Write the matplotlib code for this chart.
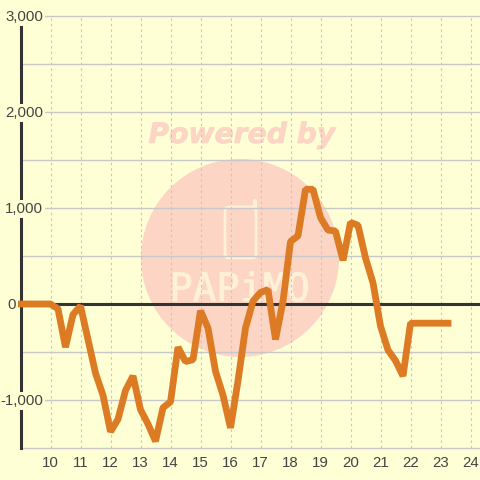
"""Line chart with hourly values and a pale watermark behind it."""

import matplotlib

matplotlib.use("Agg")
import matplotlib.patheffects as efeitos
import matplotlib.pyplot as plt
from matplotlib.lines import Line2D
from matplotlib.patches import Circle, FancyBboxPatch

hours = [
    9.0, 9.25, 9.5, 9.75, 10.0, 10.25, 10.5, 10.75, 11.0, 11.25, 11.5, 11.75,
    12.0, 12.25, 12.5, 12.75, 13.0, 13.25, 13.5, 13.75, 14.0, 14.25, 14.5, 14.75,
    15.0, 15.25, 15.5, 15.75, 16.0, 16.25, 16.5, 16.75, 17.0, 17.25, 17.5, 17.75,
    18.0, 18.25, 18.5, 18.75, 19.0, 19.25, 19.5, 19.75, 20.0, 20.25, 20.5, 20.75,
    21.0, 21.25, 21.5, 21.75, 22.0, 22.25, 22.5, 22.75, 23.0, 23.25,
]
values = [
    0, 0, 0, 0, 0, -50, -450, -110, -20, -370, -720, -950,
    -1330, -1200, -900, -750, -1100, -1250, -1430, -1080, -1020, -450, -600, -580,
    -70, -250, -700, -950, -1290, -800, -250, 30, 120, 150, -370, 30,
    650, 710, 1195, 1195, 900, 770, 760, 455, 850, 820, 480, 220,
    -230, -480, -590, -750, -200, -200, -200, -200, -200, -200,
]
x_ticks = list(range(10, 25))
y_grid = [-1500, -1000, -500, 0, 500, 1000, 1500, 2000, 2500, 3000]
y_labels = {3000: "3,000", 2000: "2,000", 1000: "1,000", 0: "0", -1000: "-1,000"}

FUNDO = "#FFFFD5"
MARCA = "#FCD5C5"
MARCA_CLARA = "#FFF1D6"
ESCURO = "#333333"
TEXTO = "#444444"
GRADE = "#C8C8C8"
LARANJA = "#DD7A24"


def px(x, y):
    """Converte pixels da imagem (origem no topo) em fração da figura."""
    return x / 480, 1 - y / 480


plt.rcParams["font.family"] = ["Liberation Sans", "DejaVu Sans"]
figura = plt.figure(figsize=(4.8, 4.8), dpi=100, facecolor=FUNDO)
eixo = figura.add_axes([20.5 / 480, 32 / 480, 459.5 / 480, 432 / 480])
eixo.patch.set_visible(False)

# Marca d'água fica atrás dos eixos.
figura.add_artist(Circle(px(240, 258), 99 / 480, transform=figura.transFigure,
                         facecolor=MARCA, edgecolor="none", zorder=-3))
figura.text(*px(242, 135), "Powered by", color=MARCA, fontsize=20.3, fontweight="bold",
            fontstyle="oblique", family="DejaVu Sans", ha="center", va="center", zorder=-2,
            path_effects=[efeitos.withStroke(linewidth=0.5, foreground=MARCA)])
figura.add_artist(FancyBboxPatch(px(225, 258), 31 / 480, 51 / 480,
                                 boxstyle="round,pad=0,rounding_size=0.009",
                                 transform=figura.transFigure, facecolor="none",
                                 edgecolor=MARCA_CLARA, linewidth=2.0, zorder=-2))
antena_x, antena_y = zip(px(255, 208), px(255, 201))
figura.add_artist(Line2D(antena_x, antena_y, transform=figura.transFigure,
                         color=MARCA_CLARA, linewidth=3.0, solid_capstyle="round", zorder=-2))
figura.text(*px(239.5, 290), "PAPiMO", color=MARCA_CLARA, fontsize=28,
            family="DejaVu Sans Mono", ha="center", va="center", zorder=-2,
            path_effects=[efeitos.withStroke(linewidth=0.6, foreground=MARCA_CLARA)])

eixo.set_xlim(9, 9 + 459.5 / 30)
eixo.set_ylim(-1500, 3000)

eixo.set_xticks(x_ticks)
eixo.set_yticks(y_grid)
eixo.set_yticklabels([])
eixo.tick_params(length=0, pad=5.5, labelsize=10.8, labelcolor=TEXTO)
eixo.grid(axis="x", color="#C4C4CC", linewidth=0.8, linestyle=(0, (2.2, 2.8)))
eixo.grid(axis="y", color=GRADE, linewidth=1.0)
eixo.set_axisbelow(True)
for linha in eixo.get_ygridlines():
    linha.set_clip_on(False)

for lado in ["top", "right", "bottom"]:
    eixo.spines[lado].set_visible(False)
eixo.spines["left"].set_color(ESCURO)
eixo.spines["left"].set_linewidth(2.2)
eixo.axhline(0, color=ESCURO, linewidth=2.2, zorder=2)

eixo.plot(hours, values, color=LARANJA, linewidth=4.9, solid_capstyle="projecting",
          solid_joinstyle="bevel", zorder=3, clip_on=False)

# Rótulos do eixo y ficam sobre o eixo, com fundo que interrompe a linha.
transformacao = eixo.get_yaxis_transform()
for valor, rotulo in y_labels.items():
    direita = -0.0098 if valor == 0 else 0.049
    eixo.annotate(rotulo, xy=(direita, valor), xycoords=transformacao,
                  xytext=(0, -0.8), textcoords="offset points", ha="right", va="center",
                  fontsize=10.8, color=TEXTO, zorder=4, annotation_clip=False,
                  bbox=dict(facecolor=FUNDO, edgecolor="none", pad=1.2))

figura.savefig("out.png", dpi=100, facecolor=FUNDO)
plt.close(figura)
